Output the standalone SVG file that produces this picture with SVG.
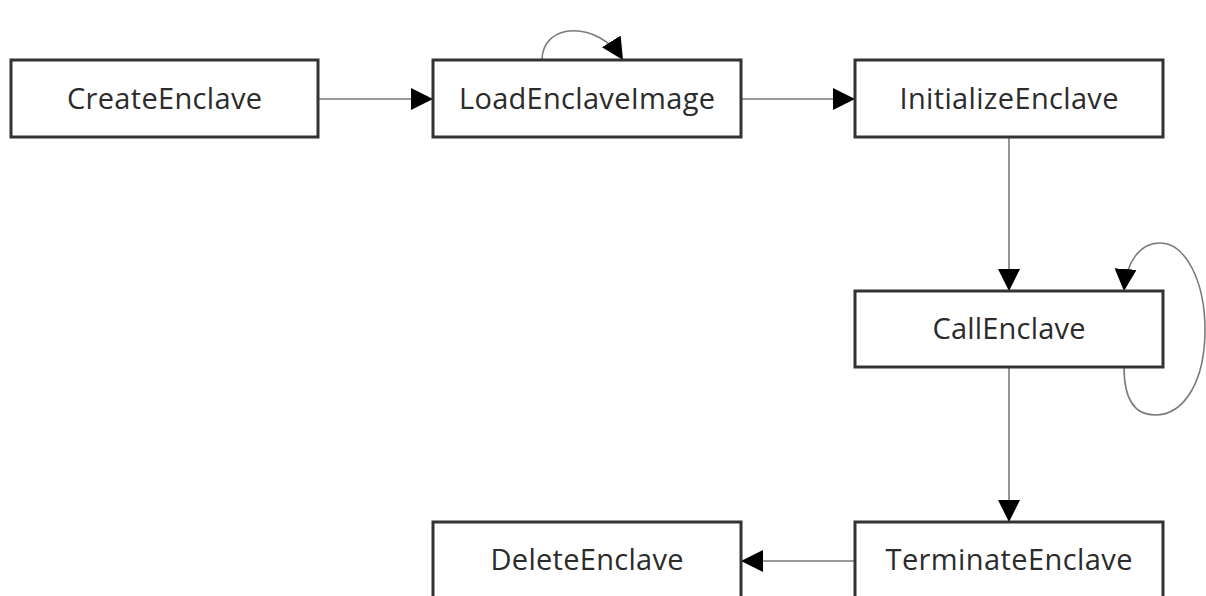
<svg xmlns="http://www.w3.org/2000/svg" width="1206" height="596" viewBox="0 0 1206 596">
  <style>
    .box { fill: #ffffff; stroke: #333333; stroke-width: 3; }
    .label { font-family: "Open Sans", "Noto Sans", "Liberation Sans", sans-serif; font-size: 29px; fill: #2b2b2b; text-anchor: middle; }
    .edge { fill: none; stroke: #7a7a7a; stroke-width: 1.6; }
  </style>
  <defs>
    <marker id="arrow" viewBox="0 0 22 22" refX="22" refY="11" markerWidth="22" markerHeight="22" markerUnits="userSpaceOnUse" orient="auto">
      <path d="M0,0 L22,11 L0,22 z" fill="#000000"/>
    </marker>
  </defs>
  <rect width="1206" height="596" fill="#ffffff"/>

  <!-- connectors -->
  <g id="connectors">
    <path class="edge" d="M318,99 L433,99" marker-end="url(#arrow)"/>
    <path class="edge" d="M741,99 L855,99" marker-end="url(#arrow)"/>
    <path class="edge" d="M542,60 C542,22 598,20 623,60" marker-end="url(#arrow)"/>
    <path class="edge" d="M1009,138 L1009,291" marker-end="url(#arrow)"/>
    <path class="edge" d="M1124,367 C1124,400 1135,415 1155,415 C1185,415 1205,380 1205,330 C1205,280 1185,243 1160,243 C1140,243 1126,262 1124,291" marker-end="url(#arrow)"/>
    <path class="edge" d="M1009,367 L1009,522" marker-end="url(#arrow)"/>
    <path class="edge" d="M855,561 L741,561" marker-end="url(#arrow)"/>
  </g>

  <!-- nodes -->
  <g id="create-enclave">
    <rect class="box" x="11" y="60" width="307" height="77"/>
    <text class="label" x="164.5" y="109" textLength="195">CreateEnclave</text>
  </g>
  <g id="load-enclave-image">
    <rect class="box" x="433" y="60" width="308" height="77"/>
    <text class="label" x="587" y="109" textLength="256">LoadEnclaveImage</text>
  </g>
  <g id="initialize-enclave">
    <rect class="box" x="855" y="60" width="308" height="77"/>
    <text class="label" x="1009" y="109" textLength="219">InitializeEnclave</text>
  </g>
  <g id="call-enclave">
    <rect class="box" x="855" y="291" width="308" height="76"/>
    <text class="label" x="1009" y="339" textLength="153">CallEnclave</text>
  </g>
  <g id="terminate-enclave">
    <rect class="box" x="855" y="522" width="308" height="77"/>
    <text class="label" x="1009" y="570" textLength="247">TerminateEnclave</text>
  </g>
  <g id="delete-enclave">
    <rect class="box" x="433" y="522" width="308" height="77"/>
    <text class="label" x="587" y="570" textLength="193">DeleteEnclave</text>
  </g>
</svg>
